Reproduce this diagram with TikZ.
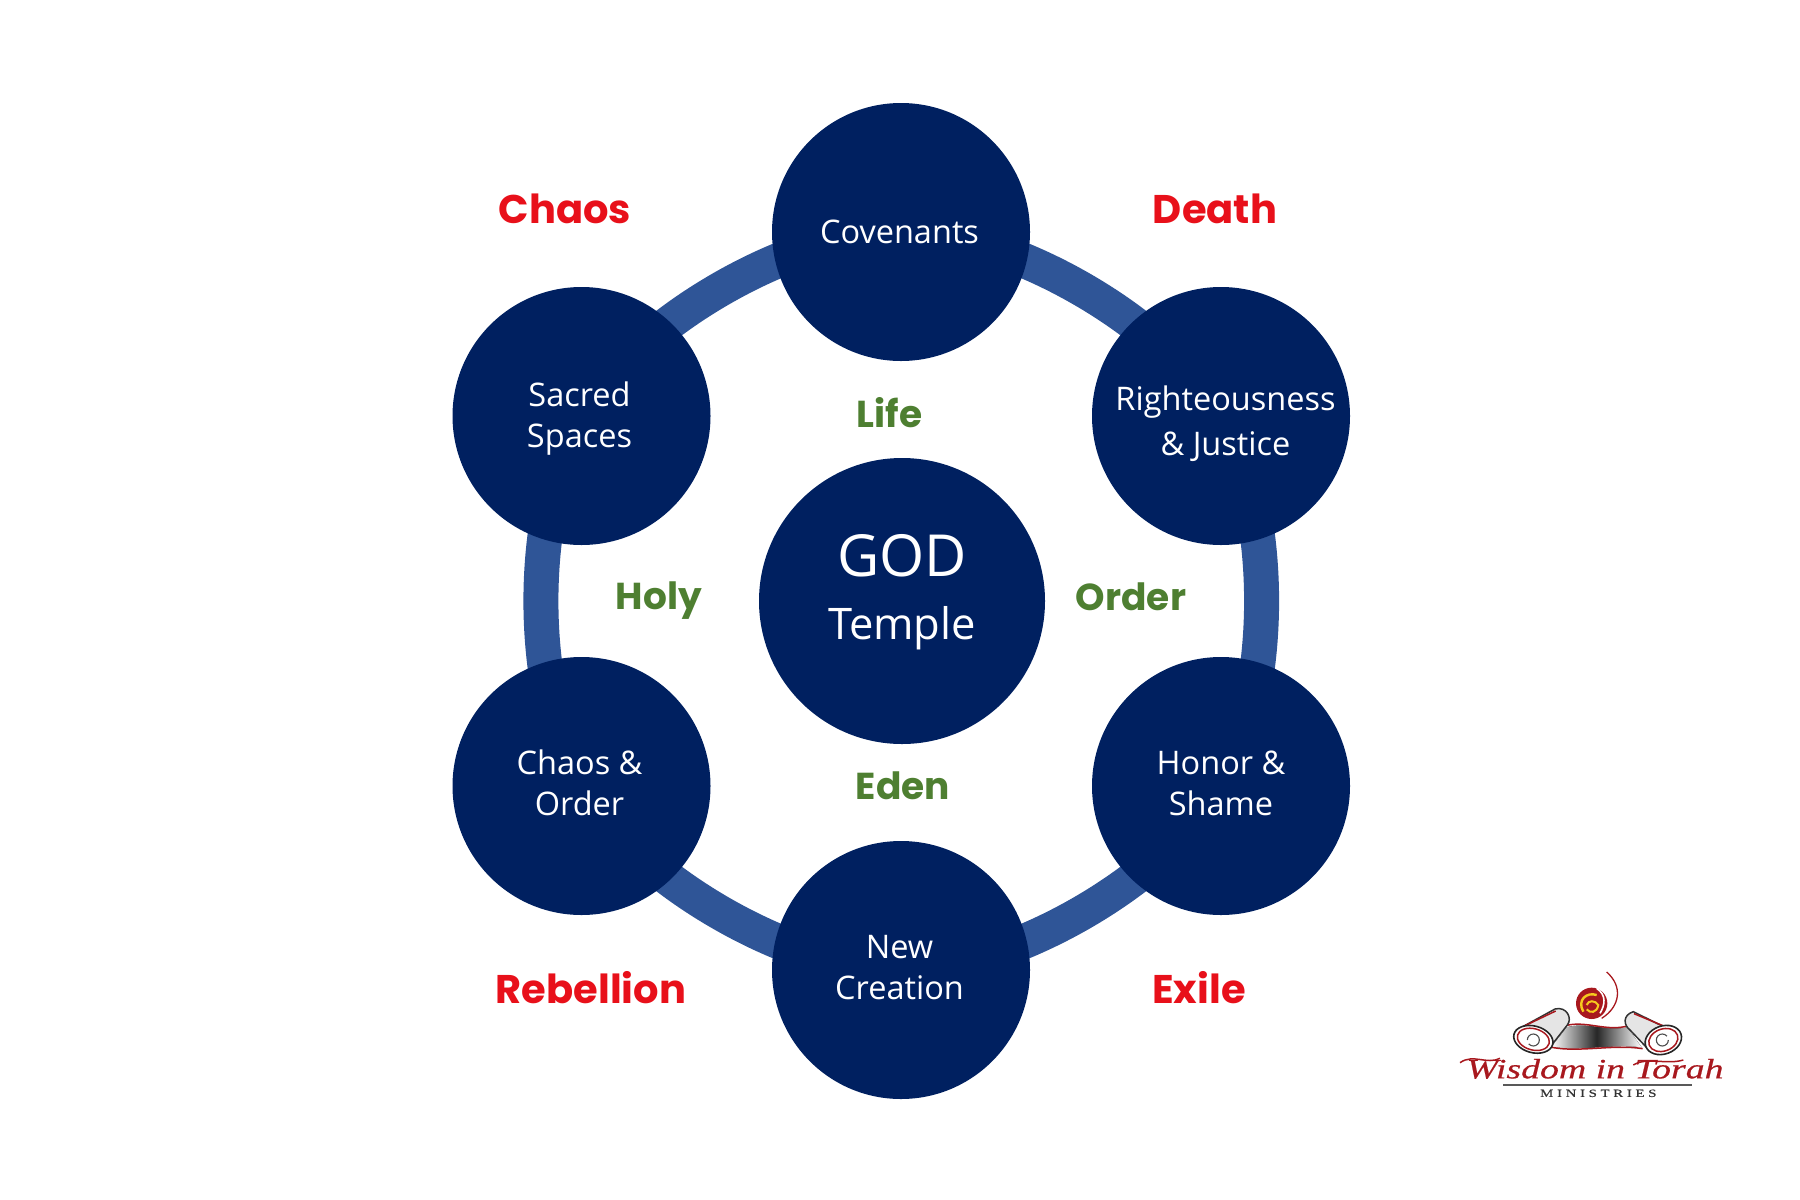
\documentclass[tikz,border=0pt]{standalone}
\usepackage{fontspec}
\setmainfont{Open Sans}
\newfontfamily\labelfont{Poppins}
\newfontfamily\logofont[FakeStretch=1.35,FakeBold=0.6]{Liberation Serif}
\usepackage{tikz}
\usetikzlibrary{backgrounds}
\definecolor{hubblue}{HTML}{002060}
\definecolor{ringblue}{HTML}{2F5597}
\definecolor{chaosred}{HTML}{E8101A}
\definecolor{edengreen}{HTML}{4E7F31}
\definecolor{logored}{HTML}{A8181E}
\definecolor{flameyellow}{HTML}{F6C91E}
% text of a circle, moved off its centre
\newcommand{\nudge}[3]{\makebox[0pt]{\hspace{#1}\raisebox{#2}[0pt][0pt]{\begin{tabular}{@{}c@{}}#3\end{tabular}}}}

\begin{document}
\begin{tikzpicture}[
  x=1pt, y=-1pt,
  hub/.style={circle, fill=hubblue, text=white, minimum size=258pt, inner sep=0pt, font=\fontsize{32.5}{41}\selectfont},
  godhub/.style={hub, minimum size=286pt, align=center},
  ring/.style={line width=35pt, ringblue, looseness=0.75},
  bad/.style={text=chaosred, font=\labelfont\bfseries\fontsize{40}{48}\selectfont},
  good/.style={text=edengreen, font=\labelfont\bfseries\fontsize{37.5}{44}\selectfont},
  roll/.style={fill=black!10, draw=black!80, line width=1.5pt},
  rollend/.style={fill=white, draw=black!85, line width=1.6pt},
  redline/.style={logored, line width=1.5pt}]

\useasboundingbox (0,0) rectangle (1800,1200);

\node[godhub] (god) at (902,601) {\fontsize{58}{66}\selectfont GOD\\[22.3pt]\fontsize{43.5}{52}\selectfont Temple\rule[-27.7pt]{0pt}{0pt}};
\node[hub] (cov) at (901,232) {\nudge{-3pt}{-9.3pt}{Covenants}};
\node[hub] (right) at (1221,416) {\nudge{9pt}{-15.5pt}{Righteousness\\[4pt]\& Justice}};
\node[hub] (honor) at (1221,786) {\nudge{0pt}{-7.3pt}{Honor \&\\Shame}};
\node[hub] (new) at (901,970) {\nudge{-3pt}{-7.5pt}{New\\Creation}};
\node[hub] (order) at (581.5,786) {\nudge{-4pt}{-7.3pt}{Chaos \&\\Order}};
\node[hub] (sacred) at (581.5,416) {\nudge{-4pt}{-9.2pt}{Sacred\\Spaces}};

% ring behind the circles
\begin{scope}[on background layer]
\draw[ring] (cov.center) to[bend left=30] (right.center);
\draw[ring] (right.center) to[bend left=30] (honor.center);
\draw[ring] (honor.center) to[bend left=30] (new.center);
\draw[ring] (new.center) to[bend left=30] (order.center);
\draw[ring] (order.center) to[bend left=30] (sacred.center);
\draw[ring] (sacred.center) to[bend left=30] (cov.center);
\end{scope}

\node[bad] (chaos) at (565,209) {Chaos};
\node[bad] (death) at (1215,209) {Death};
\node[bad] (rebel) at (591,988) {Rebellion};
\node[bad] (exile) at (1199,988) {Exile};
\node[good] (life) at (889.5,413) {Life};
\node[good] (holy) at (659,601) {Holy};
\node[good] (ord) at (1131,597) {Order};
\node[good] (eden) at (903,786) {Eden};

% logo
\begin{scope}[shift={(1420,950)}, x=1/3*1pt, y=-1/3*1pt]
\fill[left color=white, right color=white, middle color=black!85] (440,232) .. controls (500,215) and (560,245) .. (622,232) -- (665,292) .. controls (580,280) and (480,305) .. (395,290) -- cycle;
\draw[redline] (440,226) .. controls (500,212) and (560,245) .. (622,228);
\draw[redline] (395,292) .. controls (480,308) and (580,282) .. (668,296);
% scrolls
\fill[roll] (290,240) -- (405,177) .. controls (440,168) and (458,205) .. (442,225) -- (385,298) -- cycle;
\fill[roll] (640,185) .. controls (608,195) and (610,225) .. (630,240) -- (685,298) -- (775,252) -- cycle;
\draw[redline] (296,236) -- (407,183);
\draw[redline] (642,191) -- (760,240);
\fill[rollend] (340,268) ellipse [x radius=60, y radius=40, rotate=-15];
\fill[rollend] (730,270) ellipse [x radius=56, y radius=42, rotate=20];
\draw[redline] (340,268) ellipse [x radius=49, y radius=32, rotate=-15];
\draw[redline] (730,270) ellipse [x radius=45, y radius=33, rotate=20];
\draw[black!70, line width=1.1pt] (322,270) arc (180:500:18);
\draw[black!70, line width=1.1pt] (745,270) arc (0:320:18);
% flame
\fill[logored] (515,160) circle (47);
\draw[flameyellow, line width=2.4pt] (490,185) .. controls (470,150) and (500,125) .. (530,135);
\draw[flameyellow, line width=2pt] (500,165) .. controls (505,150) and (525,150) .. (535,165) .. controls (530,190) and (510,190) .. (500,178);
\draw[white, line width=1.6pt] (530,115) .. controls (560,135) and (555,165) .. (540,190);
\draw[logored, line width=1.3pt] (560,66) .. controls (610,110) and (600,170) .. (545,205);
\node[text=logored, inner sep=0pt, anchor=base, font=\logofont\itshape\fontsize{28}{28}\selectfont] (wisdom) at (525,385) {Wisdom in Torah};
\draw[redline] (120,338) .. controls (160,310) and (200,345) .. (240,325);
\draw[redline] (640,345) .. controls (680,320) and (740,345) .. (790,330);
\draw[black!65, line width=1.2pt] (250,405) -- (815,405);
\node[text=black!80, inner sep=0pt, font=\logofont\fontsize{11}{11}\selectfont] (min) at (535,430) {M\,\,I\,\,N\,\,I\,\,S\,\,T\,\,R\,\,I\,\,E\,\,S};
\end{scope}
\end{tikzpicture}
\end{document}
